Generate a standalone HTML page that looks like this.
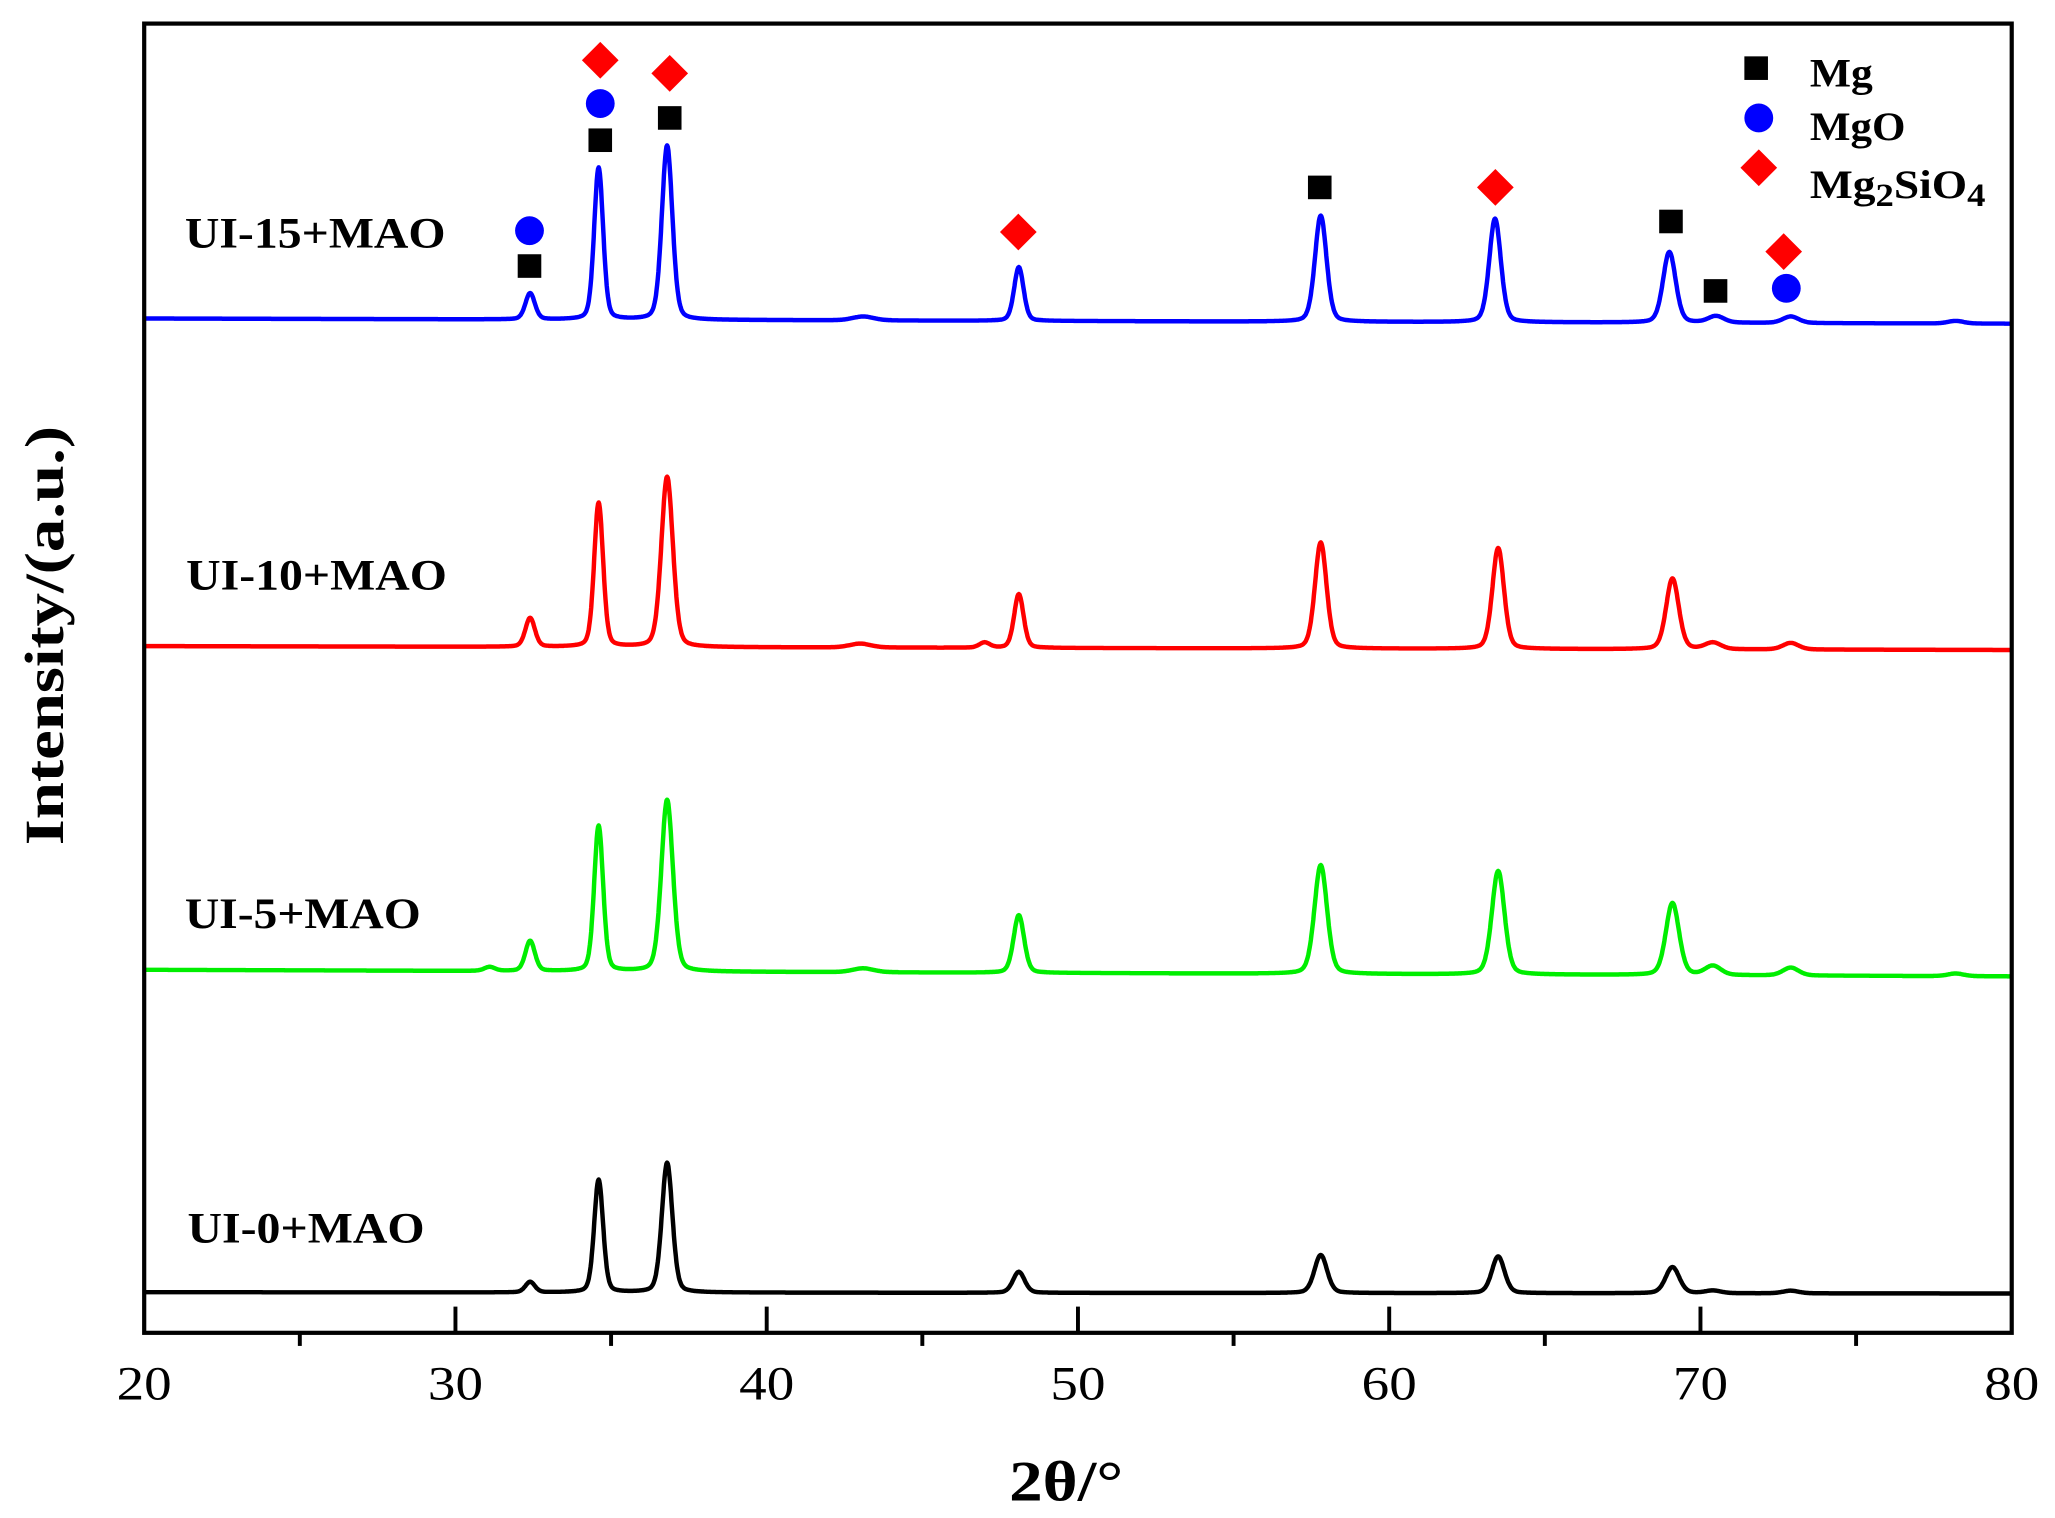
<!DOCTYPE html>
<html><head><meta charset="utf-8"><style>
html,body{margin:0;padding:0;background:#fff;}
svg{display:block;}
text{font-family:"Liberation Serif",serif;}
</style></head><body>
<svg id="s" width="2055" height="1518" viewBox="0 0 1568 1158.3" xmlns="http://www.w3.org/2000/svg">
<rect x="0" y="0" width="1568" height="1158.3" fill="#fff"/>
<g id="curves" fill="none" stroke-width="3.4" stroke-linejoin="round"></g>
<rect x="110" y="18" width="1425" height="999" fill="none" stroke="#000" stroke-width="3.2"/>
<g stroke="#000" stroke-width="3">
<line x1="347.5" y1="1017" x2="347.5" y2="997"/><line x1="585" y1="1017" x2="585" y2="997"/>
<line x1="822.5" y1="1017" x2="822.5" y2="997"/><line x1="1060" y1="1017" x2="1060" y2="997"/>
<line x1="1297.5" y1="1017" x2="1297.5" y2="997"/>
<line x1="228.75" y1="1017" x2="228.75" y2="1027"/><line x1="466.25" y1="1017" x2="466.25" y2="1027"/>
<line x1="703.75" y1="1017" x2="703.75" y2="1027"/><line x1="941.25" y1="1017" x2="941.25" y2="1027"/>
<line x1="1178.75" y1="1017" x2="1178.75" y2="1027"/><line x1="1416.25" y1="1017" x2="1416.25" y2="1027"/>
</g>
<g font-size="36" text-anchor="middle">
<text x="110" y="1068" textLength="42" lengthAdjust="spacingAndGlyphs">20</text><text x="347.5" y="1068" textLength="42" lengthAdjust="spacingAndGlyphs">30</text><text x="585" y="1068" textLength="42" lengthAdjust="spacingAndGlyphs">40</text>
<text x="822.5" y="1068" textLength="42" lengthAdjust="spacingAndGlyphs">50</text><text x="1060" y="1068" textLength="42" lengthAdjust="spacingAndGlyphs">60</text><text x="1297.5" y="1068" textLength="42" lengthAdjust="spacingAndGlyphs">70</text><text x="1535" y="1068" textLength="42" lengthAdjust="spacingAndGlyphs">80</text>
</g>
<text x="770" y="1145" font-size="44" font-weight="bold" textLength="87" lengthAdjust="spacingAndGlyphs">2θ/°</text>
<text transform="translate(48,645) rotate(-90)" font-size="42" font-weight="bold" textLength="320" lengthAdjust="spacingAndGlyphs">Intensity/(a.u.)</text>
<g font-size="33" font-weight="bold" lengthAdjust="spacingAndGlyphs">
<text x="141" y="189" textLength="199" lengthAdjust="spacingAndGlyphs">UI-15+MAO</text>
<text x="142" y="450" textLength="199" lengthAdjust="spacingAndGlyphs">UI-10+MAO</text>
<text x="141" y="708" textLength="180" lengthAdjust="spacingAndGlyphs">UI-5+MAO</text>
<text x="143" y="948" textLength="181" lengthAdjust="spacingAndGlyphs">UI-0+MAO</text>
</g>
<g font-size="31" font-weight="bold">
<text x="1381" y="66" textLength="48" lengthAdjust="spacingAndGlyphs">Mg</text>
<text x="1381" y="107" textLength="73" lengthAdjust="spacingAndGlyphs">MgO</text>
<text x="1381" y="151" textLength="134" lengthAdjust="spacingAndGlyphs">Mg<tspan font-size="25" dy="6">2</tspan><tspan dy="-6">SiO</tspan><tspan font-size="25" dy="6">4</tspan></text>
</g>
<g id="marks"></g>
</svg>
<script>
const X=t=>110+(t-20)*23.75;
const series=[
 {c:"#0000ff",b0:243,b1:247,p:[[32.4,20,.18],[34.6,116,.17],[36.8,133,.2],[43.1,3,.4],[48.1,41,.18],[57.8,81,.22],[63.4,79,.22],[69.0,54,.24],[70.5,5,.3],[72.9,5,.3],[78.2,2,.3]]},
 {c:"#ff0000",b0:493,b1:496,p:[[32.4,22,.18],[34.6,110,.17],[36.8,130,.22],[43.0,3,.4],[47.0,4,.2],[48.1,41,.18],[57.8,81,.22],[63.5,77,.22],[69.1,54,.24],[70.4,5,.3],[72.9,5,.3]]},
 {c:"#00ee00",b0:740,b1:745,p:[[31.1,3,.2],[32.4,23,.18],[34.6,111,.17],[36.8,131,.22],[43.1,3,.4],[48.1,44,.2],[57.8,83,.24],[63.5,79,.24],[69.1,55,.25],[70.4,7,.3],[72.9,6,.3],[78.2,2,.3]]},
 {c:"#000000",b0:986,b1:987,p:[[32.4,8,.18],[34.6,86,.17],[36.8,99,.2],[48.1,16,.22],[57.8,29,.24],[63.5,28,.24],[69.1,20,.26],[70.4,2,.3],[72.9,2,.3]]}
];
let g=document.getElementById("curves"),h="";
for(const s of series){
 let d="";
 for(let t=20;t<=80.0001;t+=0.02){
  let y=s.b0+(s.b1-s.b0)*(t-20)/60;
  for(const [c,a,w] of s.p){const u=(t-c)/w;y-=a*(0.75*Math.exp(-u*u*0.693)+0.25/(1+u*u));}
  d+=(d?"L":"M")+X(t).toFixed(1)+" "+y.toFixed(1);
 }
 h+=`<path d="${d}" stroke="${s.c}"/>`;
}
g.innerHTML=h;
const sq=(x,y)=>`<rect x="${x-9}" y="${y-9}" width="18" height="18" fill="#000"/>`;
const ci=(x,y)=>`<circle cx="${x}" cy="${y}" r="11" fill="#0000ff"/>`;
const di=(x,y)=>`<polygon points="${x},${y-14} ${x+14},${y} ${x},${y+14} ${x-14},${y}" fill="#ff0000"/>`;
document.getElementById("marks").innerHTML=
 ci(404,176)+sq(404,203)+di(458,46)+ci(458,79)+sq(458,107)+di(511,56)+sq(511,90)+di(777,177)+
 sq(1007,143)+di(1141,143)+sq(1275,169)+sq(1309,222)+di(1361,192)+ci(1363,220)+
 sq(1340,52)+ci(1342,90)+di(1342,128);
</script>
</body></html>
